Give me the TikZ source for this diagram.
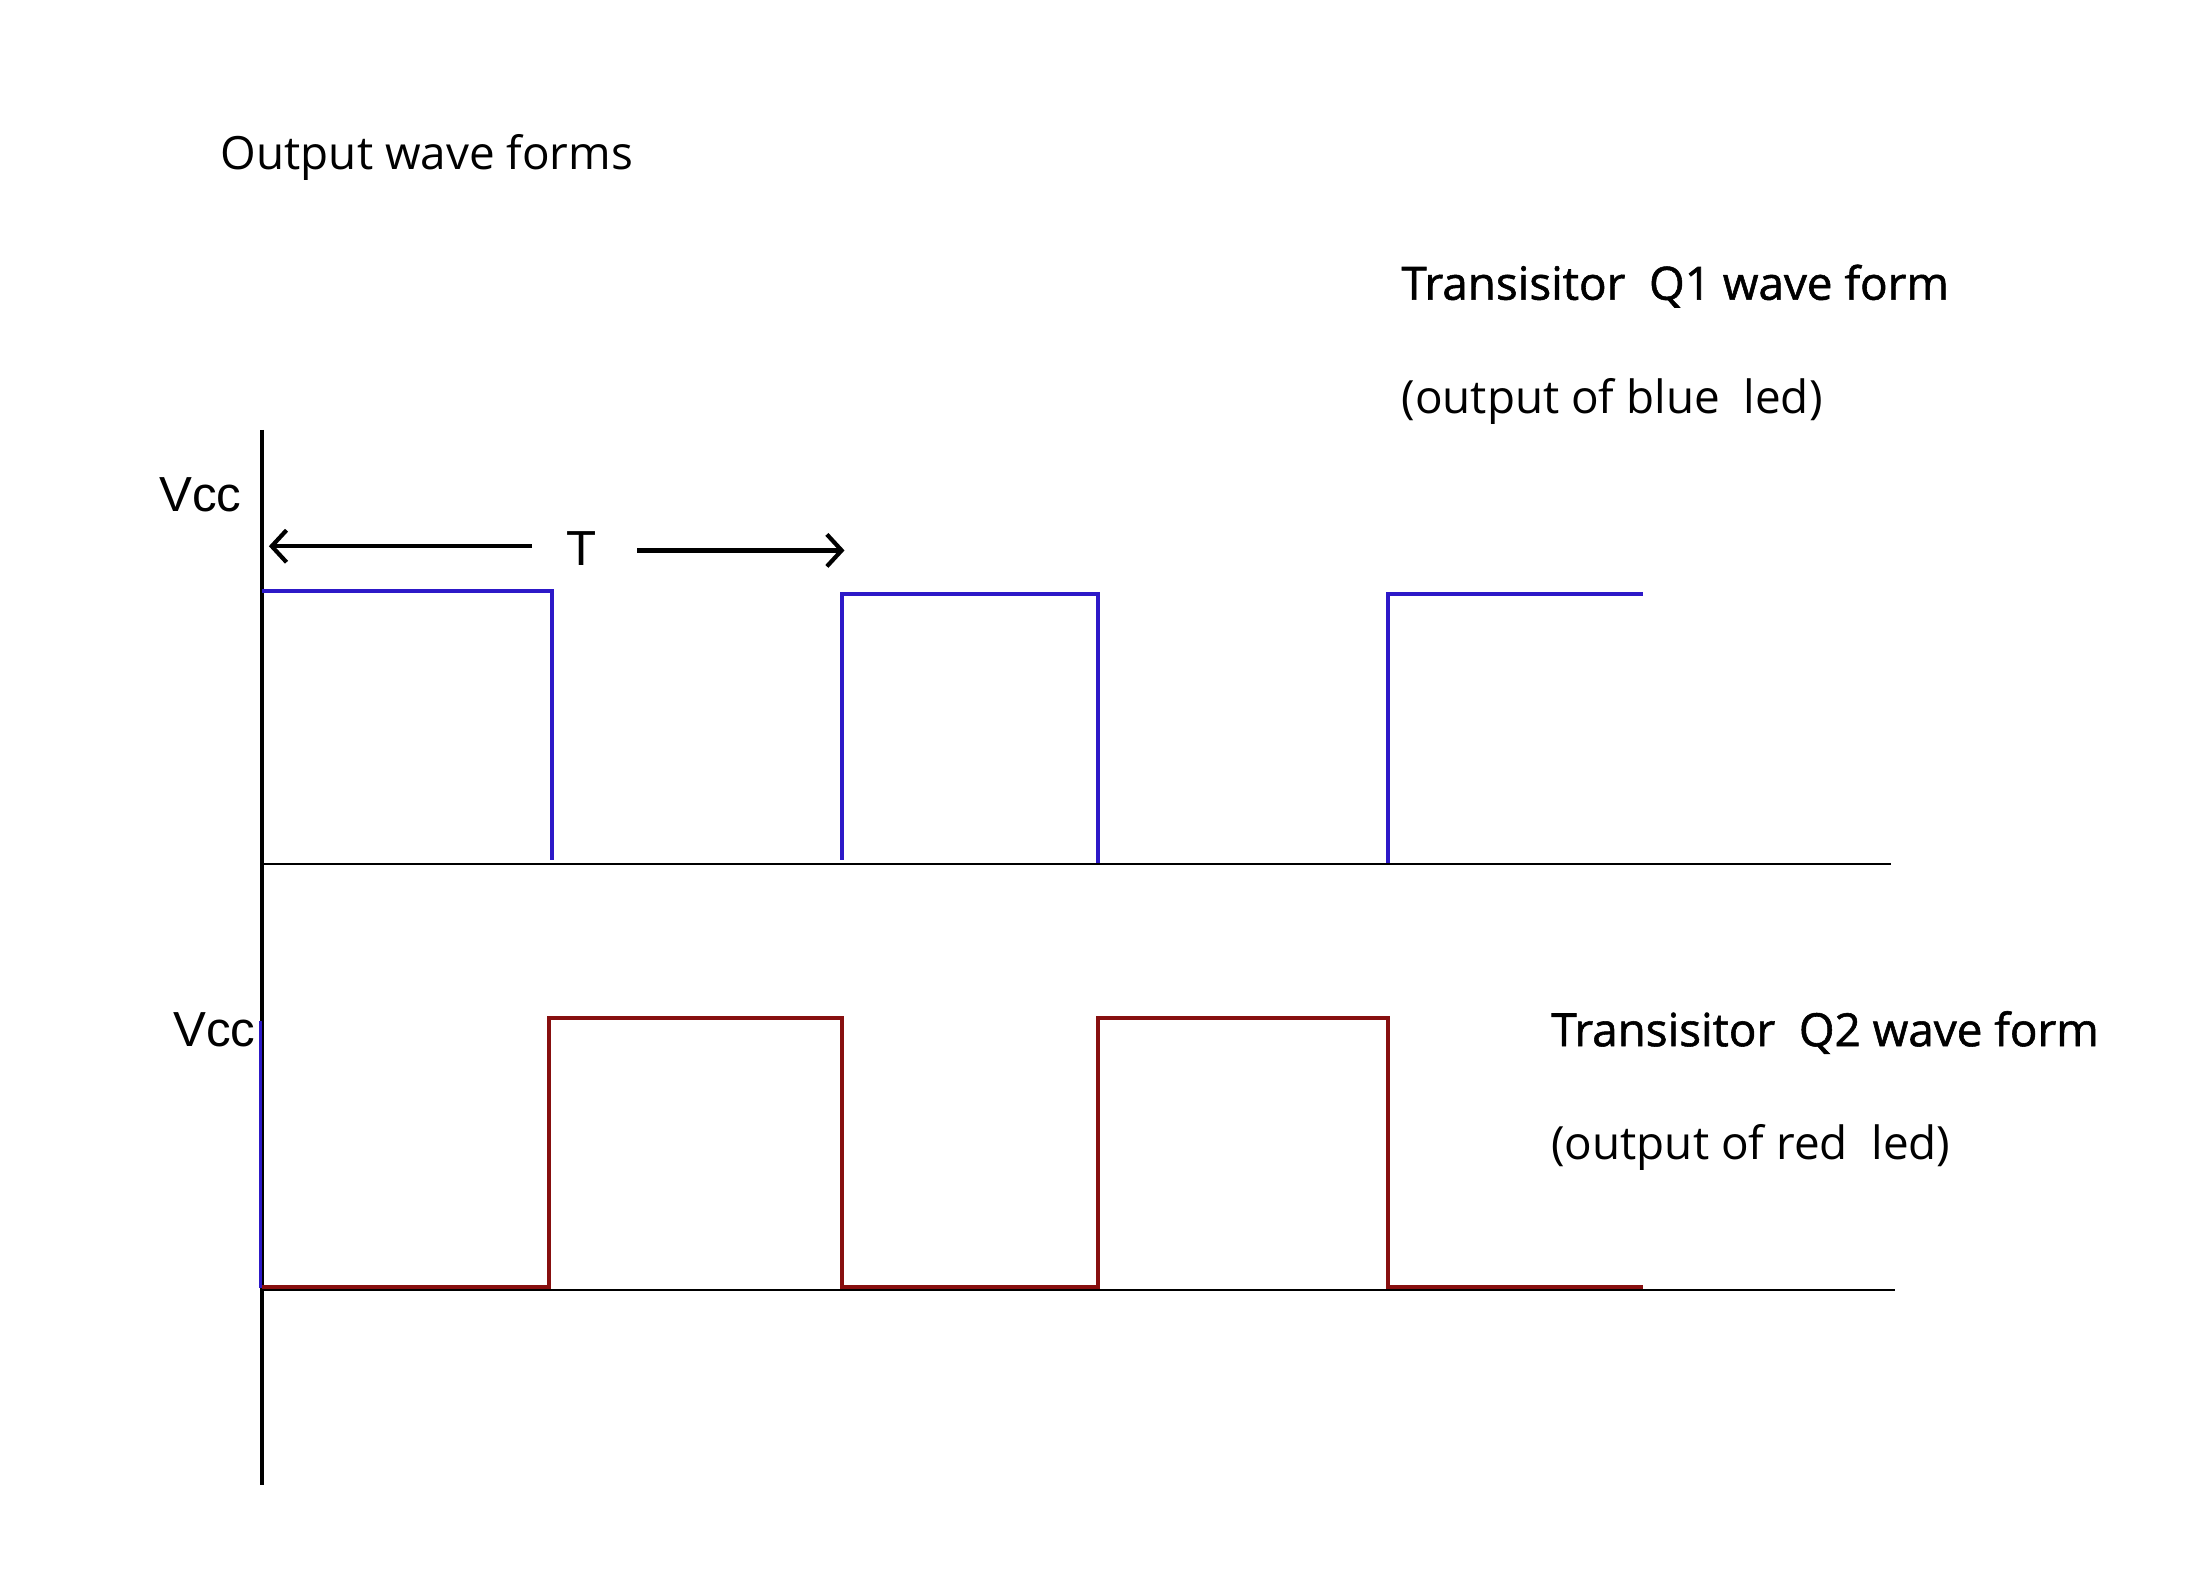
\documentclass[tikz,border=0pt]{standalone}
\usepackage{fontspec}
\setmainfont{Open Sans}
\newfontfamily\arialfont{Liberation Sans}
\newfontfamily\medfont[FakeBold=1.2]{Open Sans}
\usetikzlibrary{arrows.meta}
\definecolor{wblue}{RGB}{45,25,200}
\definecolor{wred}{RGB}{135,15,15}
\tikzset{
  lbl/.style={anchor=base west, inner sep=0pt, font=\fontsize{9.3pt}{11pt}\selectfont},
  hdr/.style={lbl, font=\medfont\fontsize{9.3pt}{11pt}\selectfont},
  vl/.style={inner sep=0pt, font=\arialfont\fontsize{10pt}{12pt}\selectfont},
  wave/.style={line width=0.8pt},
  axisline/.style={line width=0.85pt},
  baseline/.style={line width=0.4pt},
  period/.style={line width=0.85pt, -{Straight Barb[length=3pt,width=6.5pt]}}
}
\begin{document}
\begin{tikzpicture}[x=0.01cm,y=-0.01cm]
\useasboundingbox[fill=white] (0,0) rectangle (1568,1125.3);
% texts
\node[lbl] (title) at (157,121) {Output wave forms};
\node[hdr] (q1t) at (1000,214) {Transisitor\ \ Q1 wave form};
\node[lbl] (q1s) at (1000,295) {(output of blue\ \ led)};
\node[hdr] (q2t) at (1107,747) {Transisitor\ \ Q2 wave form};
\node[lbl] (q2s) at (1107,828) {(output of red\ \ led)};
\node[vl, anchor=base east] (vcc1) at (173,365) {Vcc};
\node[vl, anchor=base east] (vcc2) at (183,747) {Vcc};
\node[vl, anchor=base] (T) at (415,404) {T};
% axes
\coordinate (ytop) at (187,307);
\coordinate (ybot) at (187,1060);
\draw[axisline] (ytop) -- (ybot);
\coordinate (b1s) at (187,617);
\coordinate (b1e) at (1350,617);
\coordinate (b2s) at (187,921);
\coordinate (b2e) at (1353,921);
\draw[baseline] (b1s) -- (b1e);
\draw[baseline] (b2s) -- (b2e);
% period arrows
\coordinate (la) at (380,390);
\coordinate (lt) at (192,390);
\coordinate (ra) at (455,393);
\coordinate (rt) at (603,393);
\draw[period] (la) -- (lt);
\draw[period] (ra) -- (rt);
% Q1 wave (blue)
\draw[wave, wblue] (187,422) -- (394,422) -- (394,614);
\draw[wave, wblue] (601,614) -- (601,424) -- (784,424) -- (784,616);
\draw[wave, wblue] (991,616) -- (991,424) -- (1173,424);
\draw[wave, wblue] (186,729) -- (186,920);
% Q2 wave (red)
\draw[wave, wred] (187,919) -| (392,727) -| (601,919) -| (784,727) -| (991,919) -- (1173,919);
\end{tikzpicture}
\end{document}
